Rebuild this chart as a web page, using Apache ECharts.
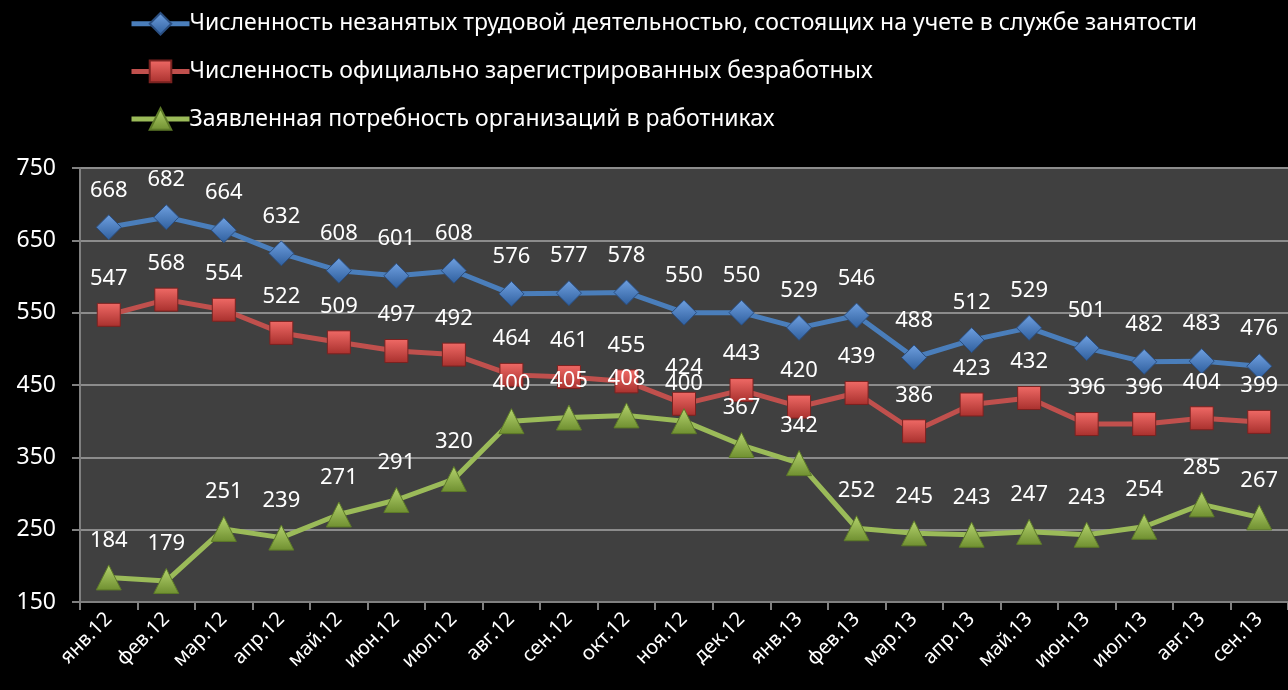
<!DOCTYPE html>
<html>
<head>
<meta charset="utf-8">
<script src="https://cdn.jsdelivr.net/npm/echarts@6/dist/echarts.min.js"></script>
<style>
  html, body { margin: 0; padding: 0; background: #000; }
  #chart { width: 1288px; height: 690px; }
</style>
</head>
<body>
<div id="chart"></div>
<script>
var months = ['янв.12','фев.12','мар.12','апр.12','май.12','июн.12','июл.12','авг.12','сен.12','окт.12','ноя.12','дек.12',
              'янв.13','фев.13','мар.13','апр.13','май.13','июн.13','июл.13','авг.13','сен.13'];
var unemployed = [668,682,664,632,608,601,608,576,577,578,550,550,529,546,488,512,529,501,482,483,476];
var registered = [547,568,554,522,509,497,492,464,461,455,424,443,420,439,386,423,432,396,396,404,399];
var demand     = [184,179,251,239,271,291,320,400,405,408,400,367,342,252,245,243,247,243,254,285,267];

var names = [
    'Численность незанятых трудовой деятельностью, состоящих на учете в службе занятости',
    'Численность официально зарегистрированных безработных',
    'Заявленная потребность организаций в работниках'
];

var font = '"Noto Sans", "DejaVu Sans", sans-serif';

function grad(light, dark) {
    return new echarts.graphic.LinearGradient(0, 0, 0, 1, [
        {offset: 0, color: light},
        {offset: 1, color: dark}
    ]);
}

function makeSeries(name, data, color, symbol, size, fill, border) {
    return {
        name: name,
        type: 'line',
        data: data,
        symbol: symbol,
        symbolSize: size,
        lineStyle: {color: color, width: 5},
        itemStyle: {color: fill, borderColor: border, borderWidth: 1},
        label: {
            show: true,
            position: 'top',
            distance: 13,
            color: '#fff',
            fontSize: 22,
            fontFamily: font
        },
        z: 3
    };
}

var myChart = echarts.init(document.getElementById('chart'));

var option = {
    backgroundColor: '#000',
    animation: false,
    legend: {
        orient: 'vertical',
        left: 124,
        top: 7,
        itemGap: 24,
        itemWidth: 58,
        itemHeight: 27,
        lineStyle: {width: 5},
        textStyle: {color: '#fff', fontSize: 23, fontFamily: font, padding: [0, 0, 0, -5]},
        data: names
    },
    grid: {left: 80, right: 0, top: 168, bottom: 88, backgroundColor: '#404040', show: true, borderWidth: 0},
    xAxis: {
        type: 'category',
        data: months,
        boundaryGap: true,
        axisLine: {lineStyle: {color: '#808080', width: 2}},
        axisTick: {show: true, length: 8, lineStyle: {color: '#808080', width: 2}},
        axisLabel: {color: '#fff', fontSize: 20, fontFamily: font, rotate: 45, margin: 14, interval: 0}
    },
    yAxis: {
        type: 'value',
        min: 150,
        max: 750,
        interval: 100,
        axisLine: {show: true, lineStyle: {color: '#808080', width: 2}},
        axisTick: {show: true, length: 8, lineStyle: {color: '#808080', width: 2}},
        splitLine: {lineStyle: {color: '#8c8c8c', width: 2}},
        axisLabel: {color: '#fff', fontSize: 23, fontFamily: font, margin: 24}
    },
    series: [
        makeSeries(names[0], unemployed, '#4a7ebb', 'diamond', 25, grad('#6fa0e0', '#2f5f9e'), '#2a4e80'),
        makeSeries(names[1], registered, '#c0504d', 'rect', 23, grad('#f06a66', '#a8302d'), '#7a2220'),
        makeSeries(names[2], demand, '#9bbb59', 'triangle', 25, grad('#b5d46e', '#6f8f30'), '#5d7a28')
    ]
};
myChart.setOption(option);
</script>
</body>
</html>
